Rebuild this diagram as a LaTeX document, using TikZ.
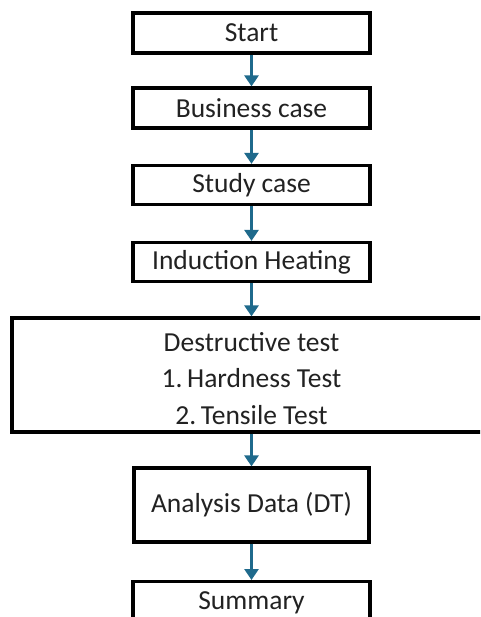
\documentclass[tikz,border=0pt]{standalone}
\usepackage{fontspec}
\setmainfont{Carlito}
\usetikzlibrary{arrows.meta}
\definecolor{arrowblue}{HTML}{1F6A8C}
\definecolor{txt}{HTML}{222222}
\begin{document}
\begin{tikzpicture}[x=1pt,y=-1pt,
  box/.style={draw=black, line width=3.2pt, fill=white, minimum width=237pt,
    inner sep=0pt, font=\fontsize{27.5}{32}\selectfont, text=txt},
  flow/.style={arrowblue, line width=3pt, -{Triangle[width=14pt,length=11pt]}}]
\useasboundingbox (0,0) rectangle (480,617);
\clip (0,0) rectangle (480,617);
\node[box, minimum height=40pt] (start) at (251.5,33) {Start};
\node[box, minimum height=40pt] (bc) at (251.5,108) {Business case};
\node[box, minimum height=39pt] (sc) at (251.5,185) {Study case};
\node[box, minimum height=39pt] (ih) at (251.5,262) {Induction Heating};
\node[box, minimum height=114pt, minimum width=479pt] (dt) at (251.5,375) {};
\node[align=center, inner sep=0pt, text=txt, font=\fontsize{27.5}{36.5}\selectfont]
  (dttext) at (251.5,378.5) {Destructive test\\1.\,Hardness Test\\2.\,Tensile Test};
\node[box, minimum height=74pt, minimum width=235pt] (ad) at (251.5,505) {Analysis Data (DT)};
\node[box, minimum height=42pt, anchor=north] (sum) at (251.5,580) {Summary};
\draw[flow] (start) -- (bc);
\draw[flow] (bc) -- (sc);
\draw[flow] (sc) -- (ih);
\draw[flow] (ih) -- (dt);
\draw[flow] (dt) -- (ad);
\draw[flow] (ad) -- (sum);
\end{tikzpicture}
\end{document}
